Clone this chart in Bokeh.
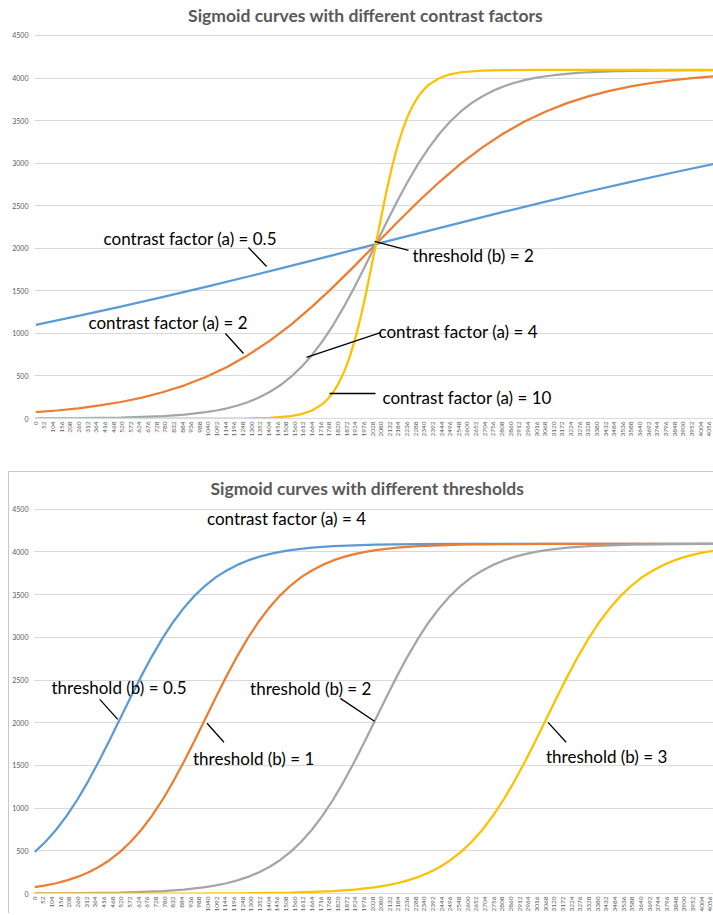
import math
from bokeh.plotting import figure
from bokeh.models import Range1d, FixedTicker, Label, Spacer
from bokeh.layouts import column, row
from bokeh.embed import file_html
from bokeh.resources import INLINE

# ---------------- data ----------------
x_ticks = list(range(0, 4057, 52))
y_ticks = [0, 500, 1000, 1500, 2000, 2500, 3000, 3500, 4000, 4500]

# top chart: threshold b = 2, different contrast factors
top_x_a05 = [0, 256, 512, 768, 1024, 1280, 1536, 1792, 2048, 2304, 2560, 2816, 3072, 3328, 3584, 3840, 4095]
top_y_a05 = [1101, 1205, 1314, 1428, 1546, 1668, 1793, 1920, 2048, 2175, 2302, 2427, 2549, 2667, 2781, 2890, 2994]

top_x_a2 = [0, 128, 256, 384, 512, 640, 768, 896, 1024, 1152, 1280, 1408, 1536, 1664, 1792, 1920, 2048,
            2176, 2304, 2432, 2560, 2688, 2816, 2944, 3072, 3200, 3328, 3456, 3584, 3712, 3840, 3968, 4095]
top_y_a2 = [74, 94, 120, 153, 194, 246, 311, 390, 488, 606, 747, 912, 1101, 1314, 1546, 1793, 2048,
            2302, 2549, 2781, 2994, 3183, 3348, 3489, 3607, 3705, 3784, 3849, 3901, 3942, 3975, 4001, 4021]

top_x_a4 = [0, 256, 512, 768, 896, 1024, 1088, 1152, 1216, 1280, 1344, 1408, 1472, 1536, 1600, 1664, 1728,
            1792, 1856, 1920, 1984, 2048, 2112, 2176, 2240, 2304, 2368, 2432, 2496, 2560, 2624, 2688, 2752,
            2816, 2880, 2944, 3008, 3072, 3136, 3200, 3264, 3328, 3456, 3584, 3840, 4095]
top_y_a4 = [1, 4, 10, 27, 45, 74, 94, 120, 153, 194, 246, 311, 390, 488, 606, 747, 912,
            1101, 1314, 1546, 1793, 2048, 2302, 2549, 2781, 2994, 3183, 3348, 3489, 3607, 3705, 3784, 3849,
            3901, 3942, 3975, 4001, 4021, 4037, 4050, 4060, 4068, 4078, 4085, 4091, 4094]

top_x_a10 = [0, 512, 1024, 1280, 1408, 1536, 1600, 1664, 1728, 1760, 1792, 1824, 1856, 1888, 1920, 1952,
             1984, 2016, 2048, 2080, 2112, 2144, 2176, 2208, 2240, 2272, 2304, 2336, 2368, 2432, 2496,
             2560, 2688, 2816, 3072, 3584, 4095]
top_y_a10 = [0, 0, 0, 2, 8, 27, 51, 94, 172, 232, 311, 413, 545, 710, 912, 1152,
             1428, 1730, 2048, 2365, 2667, 2943, 3183, 3385, 3550, 3682, 3784, 3863, 3923, 4001, 4044,
             4068, 4087, 4093, 4095, 4095, 4095]

# bottom chart: contrast factor a = 4, different thresholds
bot_x_b05 = [0, 64, 128, 192, 256, 320, 384, 448, 512, 576, 640, 704, 768, 832, 896, 960, 1024,
             1088, 1152, 1216, 1280, 1344, 1408, 1472, 1536, 1600, 1664, 1728, 1792, 1920, 2048,
             2304, 2560, 3072, 4095]
bot_y_b05 = [488, 606, 747, 912, 1101, 1314, 1546, 1793, 2048, 2302, 2549, 2781, 2994, 3183, 3348, 3489, 3607,
             3705, 3784, 3849, 3901, 3942, 3975, 4001, 4021, 4037, 4050, 4060, 4068, 4078, 4085,
             4091, 4094, 4095, 4095]

bot_x_b1 = [0, 64, 128, 192, 256, 320, 384, 448, 512, 576, 640, 704, 768, 832, 896, 960, 1024,
            1088, 1152, 1216, 1280, 1344, 1408, 1472, 1536, 1600, 1664, 1728, 1792, 1856, 1920, 1984,
            2048, 2112, 2176, 2240, 2304, 2432, 2560, 2816, 3072, 3584, 4095]
bot_y_b1 = [74, 94, 120, 153, 194, 246, 311, 390, 488, 606, 747, 912, 1101, 1314, 1546, 1793, 2048,
            2302, 2549, 2781, 2994, 3183, 3348, 3489, 3607, 3705, 3784, 3849, 3901, 3942, 3975, 4001,
            4021, 4037, 4050, 4060, 4068, 4078, 4085, 4091, 4094, 4095, 4095]

bot_x_b2 = [0, 256, 512, 768, 896, 1024, 1088, 1152, 1216, 1280, 1344, 1408, 1472, 1536, 1600, 1664, 1728,
            1792, 1856, 1920, 1984, 2048, 2112, 2176, 2240, 2304, 2368, 2432, 2496, 2560, 2624, 2688, 2752,
            2816, 2880, 2944, 3008, 3072, 3136, 3200, 3264, 3328, 3456, 3584, 3840, 4095]
bot_y_b2 = [1, 4, 10, 27, 45, 74, 94, 120, 153, 194, 246, 311, 390, 488, 606, 747, 912,
            1101, 1314, 1546, 1793, 2048, 2302, 2549, 2781, 2994, 3183, 3348, 3489, 3607, 3705, 3784, 3849,
            3901, 3942, 3975, 4001, 4021, 4037, 4050, 4060, 4068, 4078, 4085, 4091, 4094]

bot_x_b3 = [0, 1024, 1280, 1536, 1792, 1920, 2048, 2112, 2176, 2240, 2304, 2368, 2432, 2496, 2560, 2624,
            2688, 2752, 2816, 2880, 2944, 3008, 3072, 3136, 3200, 3264, 3328, 3392, 3456, 3520, 3584,
            3648, 3712, 3776, 3840, 3904, 3968, 4032, 4095]
bot_y_b3 = [0, 1, 4, 10, 27, 45, 74, 94, 120, 153, 194, 246, 311, 390, 488, 606,
            747, 912, 1101, 1314, 1546, 1793, 2048, 2302, 2549, 2781, 2994, 3183, 3348, 3489, 3607,
            3705, 3784, 3849, 3901, 3942, 3975, 4001, 4021]

BLUE, ORANGE, GRAY, GOLD = "#5B9BD5", "#ED7D31", "#A5A5A5", "#FFC000"
FONT = "Lato"


def make_fig(width, height, mb_left, mb_bottom, y_end, y_standoff):
    p = figure(width=width, height=height, x_range=Range1d(-8, 4082), y_range=Range1d(0, y_end),
               output_backend="svg", toolbar_location=None,
               min_border_left=mb_left, min_border_right=0,
               min_border_top=0, min_border_bottom=mb_bottom)
    p.outline_line_color = None
    p.background_fill_color = "white"
    p.border_fill_color = "white"
    p.xgrid.grid_line_color = None
    p.ygrid.grid_line_color = "#d9d9d9"
    p.ygrid.grid_line_width = 1
    p.yaxis.ticker = FixedTicker(ticks=y_ticks)
    p.xaxis.ticker = FixedTicker(ticks=x_ticks)
    p.xaxis.major_label_orientation = math.pi / 2
    for ax in (p.xaxis, p.yaxis):
        ax.major_tick_line_color = None
        ax.minor_tick_line_color = None
        ax.major_tick_out = 0
        ax.major_tick_in = 0
        ax.minor_tick_out = 0
        ax.axis_label_standoff = 0
        ax.major_label_text_font = FONT
        ax.major_label_text_color = "#595959"
    p.yaxis.axis_line_color = None
    p.yaxis.major_label_text_font_size = "7px"
    p.yaxis.major_label_standoff = y_standoff
    p.xaxis.axis_line_color = "#d9d9d9"
    p.xaxis.major_label_text_font_size = "6.5px"
    p.xaxis.major_label_standoff = 3
    return p


def add_title(p, x, y, text):
    p.add_layout(Label(x=x, y=y, text=text, text_align="center", text_baseline="middle",
                       text_font=FONT, text_font_size="17.5px", text_font_style="bold",
                       text_color="#595959"))


def add_note(p, x, y, text):
    p.add_layout(Label(x=x, y=y, text=text, text_align="left", text_baseline="middle",
                       text_font=FONT, text_font_size="17px", text_color="#000000"))


def add_leader(p, x0, y0, x1, y1):
    p.segment(x0=[x0], y0=[y0], x1=[x1], y1=[y1], line_color="#000000", line_width=1.3)


# ---------------- top chart ----------------
p1 = make_fig(713, 471, 34, 53, 4911, 6)
p1.line(top_x_a05, top_y_a05, line_color=BLUE, line_width=2.25)
p1.line(top_x_a2, top_y_a2, line_color=ORANGE, line_width=2.25)
p1.line(top_x_a4, top_y_a4, line_color=GRAY, line_width=2.25)
p1.line(top_x_a10, top_y_a10, line_color=GOLD, line_width=2.25)

add_title(p1, 1986, 4735, "Sigmoid curves with different contrast factors")
add_note(p1, 408, 2115, "contrast factor (a) = 0.5")
add_leader(p1, 1281, 2009, 1390, 1786)
add_note(p1, 317, 1128, "contrast factor (a) = 2")
add_leader(p1, 1142, 999, 1251, 764)
add_note(p1, 2064, 1022, "contrast factor (a) = 4")
add_leader(p1, 1630, 717, 2076, 1010)
add_note(p1, 2088, 247, "contrast factor (a) = 10")
add_leader(p1, 1769, 294, 2046, 294)
add_note(p1, 2269, 1915, "threshold (b) = 2")
add_leader(p1, 2040, 2080, 2245, 1974)

# ---------------- bottom chart ----------------
p2 = make_fig(705, 442, 23, 20, 4931, 5)
p2.styles = {"border-top": "1px solid #c8c8c8", "border-left": "1px solid #c8c8c8"}
p2.line(bot_x_b05, bot_y_b05, line_color=BLUE, line_width=2.25)
p2.line(bot_x_b1, bot_y_b1, line_color=ORANGE, line_width=2.25)
p2.line(bot_x_b2, bot_y_b2, line_color=GRAY, line_width=2.25)
p2.line(bot_x_b3, bot_y_b3, line_color=GOLD, line_width=2.25)

add_title(p2, 2010, 4745, "Sigmoid curves with different  thresholds")
add_note(p2, 1034, 4395, "contrast factor (a) = 4")
add_note(p2, 100, 2413, "threshold (b) = 0.5")
add_leader(p2, 390, 2273, 498, 2040)
add_note(p2, 950, 1585, "threshold (b) = 1")
add_leader(p2, 1034, 1994, 1136, 1772)
add_note(p2, 1293, 2402, "threshold (b) = 2")
add_leader(p2, 1835, 2285, 2040, 2017)
add_note(p2, 3070, 1609, "threshold (b) = 3")
add_leader(p2, 3082, 2005, 3191, 1772)

layout = column(p1, row(Spacer(width=8, height=442), p2))
open("out.html", "w").write(file_html(layout, INLINE))
